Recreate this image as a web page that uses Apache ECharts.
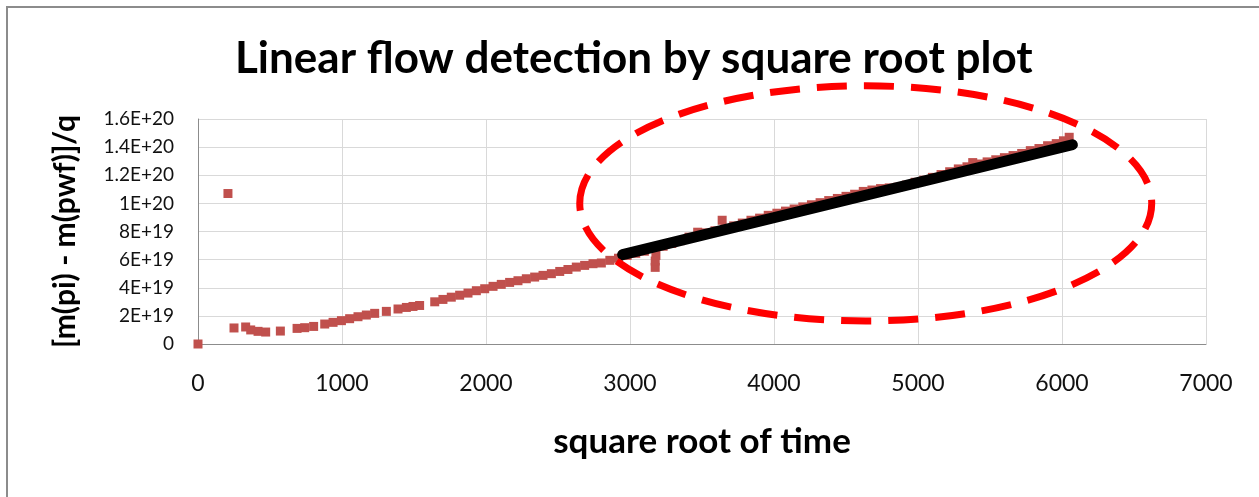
<!DOCTYPE html>
<html>
<head>
<meta charset="utf-8">
<title>Linear flow detection by square root plot</title>
<script src="https://cdn.jsdelivr.net/npm/echarts@6/dist/echarts.min.js"></script>
<style>
  html, body { margin: 0; padding: 0; background: #fff; }
  #chart { width: 1259px; height: 497px; }
</style>
</head>
<body>
<div id="chart"></div>
<script>
// measured points: square root of time vs [m(pi) - m(pwf)]/q
var sqrtTime = [
  0, 208, 250, 331, 366, 417, 470, 572, 688, 741, 803, 880, 938, 996,
  1053, 1111, 1169, 1227, 1308, 1389, 1447, 1493, 1539, 1644, 1701, 1759,
  1817, 1875, 1933, 1991, 2049, 2106, 2164, 2222, 2280, 2338, 2396, 2454,
  2512, 2569, 2627, 2685, 2743, 2801, 2860, 2920, 2980, 3040, 3100, 3175,
  3175, 3180, 3230, 3290, 3350, 3410, 3470, 3530, 3590, 3640, 3660, 3720,
  3780, 3840, 3900, 3960, 4020, 4080, 4140, 4200, 4260, 4320, 4380, 4440,
  4500, 4560, 4620, 4680, 4740, 4800, 4860, 4920, 4980, 5040, 5100, 5160,
  5220, 5280, 5340, 5380, 5420, 5480, 5540, 5600, 5660, 5720, 5780, 5840,
  5900, 5960, 6010, 6050
];
var deltaM = [
  0, 1.07e20, 1.14e19, 1.21e19, 1.0e19, 0.9e19, 0.85e19, 0.92e19, 1.11e19, 1.16e19, 1.25e19, 1.42e19, 1.54e19, 1.66e19,
  1.8e19, 1.94e19, 2.06e19, 2.18e19, 2.32e19, 2.49e19, 2.6e19, 2.67e19, 2.74e19, 3.0e19, 3.17e19, 3.33e19,
  3.47e19, 3.62e19, 3.79e19, 3.93e19, 4.1e19, 4.24e19, 4.38e19, 4.5e19, 4.64e19, 4.76e19, 4.88e19, 5.0e19,
  5.16e19, 5.3e19, 5.47e19, 5.59e19, 5.71e19, 5.76e19, 5.95e19, 6.1e19, 6.3e19, 6.45e19, 6.6e19, 5.45e19,
  5.9e19, 6.3e19, 6.95e19, 7.15e19, 7.35e19, 7.6e19, 7.95e19, 7.9e19, 8.05e19, 8.8e19, 8.2e19, 8.4e19,
  8.6e19, 8.8e19, 8.95e19, 9.15e19, 9.3e19, 9.45e19, 9.6e19, 9.75e19, 9.9e19, 10.05e19, 10.2e19, 10.35e19,
  10.5e19, 10.65e19, 10.85e19, 10.95e19, 11.05e19, 11.1e19, 11.15e19, 11.3e19, 11.5e19, 11.65e19, 11.85e19, 12.05e19,
  12.25e19, 12.45e19, 12.6e19, 12.9e19, 12.8e19, 12.95e19, 13.1e19, 13.25e19, 13.4e19, 13.55e19, 13.75e19, 13.9e19,
  14.1e19, 14.25e19, 14.45e19, 14.7e19
];

// straight-line fit drawn over the linear flow period
var trendX = [2949, 6072];
var trendY = [6.35e19, 1.417e20];

// dashed ellipse marking the linear flow region (data units)
var ringCenter = [4637, 1.0e20];
var ringRadius = [1986, 8.36e19];

var xTicks = [0, 7000, 1000];
var yTicks = [0, 1.6e20, 2e19];

var myChart = echarts.init(document.getElementById('chart'));

var points = sqrtTime.map(function (x, i) { return [x, deltaM[i]]; });
var trend = trendX.map(function (x, i) { return [x, trendY[i]]; });

function sciLabel(v) {
    if (v === 0) return '0';
    return v.toExponential().replace('e', 'E');
}

var option = {
    backgroundColor: '#fff',
    animation: false,
    title: {
        text: 'Linear flow detection by square root plot',
        left: 230,
        top: 32,
        textStyle: { fontFamily: 'Lato', fontWeight: 'bold', fontSize: 44, color: '#000' }
    },
    graphic: [{
        type: 'rect',
        silent: true,
        shape: { x: 7, y: 7, width: 1400, height: 700 },
        style: { fill: 'none', stroke: '#8c8c8c', lineWidth: 2 }
    }],
    grid: { left: 198, right: 53, top: 119, bottom: 153 },
    xAxis: {
        type: 'value',
        min: xTicks[0], max: xTicks[1], interval: xTicks[2],
        name: 'square root of time',
        nameLocation: 'middle',
        nameGap: 80,
        nameTextStyle: { fontFamily: 'Lato', fontWeight: 'bold', fontSize: 35, color: '#000' },
        axisLine: { lineStyle: { color: '#8c8c8c', width: 1 } },
        axisTick: { show: false },
        axisLabel: { fontFamily: 'Lato', fontSize: 23, color: '#111', margin: 28, formatter: function (v) { return String(v); } },
        splitLine: { lineStyle: { color: '#d9d9d9', width: 1 } }
    },
    yAxis: {
        type: 'value',
        min: yTicks[0], max: yTicks[1], interval: yTicks[2],
        name: '[m(pi) - m(pwf)]/q',
        nameLocation: 'middle',
        nameGap: 118,
        nameTextStyle: { fontFamily: 'Lato', fontWeight: 'bold', fontSize: 30, color: '#000' },
        axisLine: { show: true, lineStyle: { color: '#8c8c8c', width: 1 } },
        axisTick: { show: false },
        axisLabel: { fontFamily: 'Lato', fontSize: 19, color: '#111', margin: 24, formatter: sciLabel },
        splitLine: { lineStyle: { color: '#d9d9d9', width: 1 } }
    },
    series: [
        {
            type: 'scatter',
            data: points,
            symbol: 'rect',
            symbolSize: 9,
            itemStyle: { color: '#c0504d', opacity: 1 },
            z: 2
        },
        {
            type: 'line',
            data: trend,
            symbol: 'none',
            lineStyle: { color: '#000', width: 11, cap: 'round' },
            z: 3
        },
        {
            type: 'custom',
            clip: false,
            silent: true,
            data: [ringCenter],
            renderItem: function (params, api) {
                var c = api.coord([api.value(0), api.value(1)]);
                var s = api.size(ringRadius, [api.value(0), api.value(1)]);
                return {
                    type: 'ellipse',
                    shape: { cx: c[0], cy: c[1], rx: s[0], ry: s[1] },
                    style: { fill: 'none', stroke: '#ff0000', lineWidth: 7, lineDash: [30, 17] }
                };
            },
            z: 4
        }
    ]
};

myChart.setOption(option);
</script>
</body>
</html>
